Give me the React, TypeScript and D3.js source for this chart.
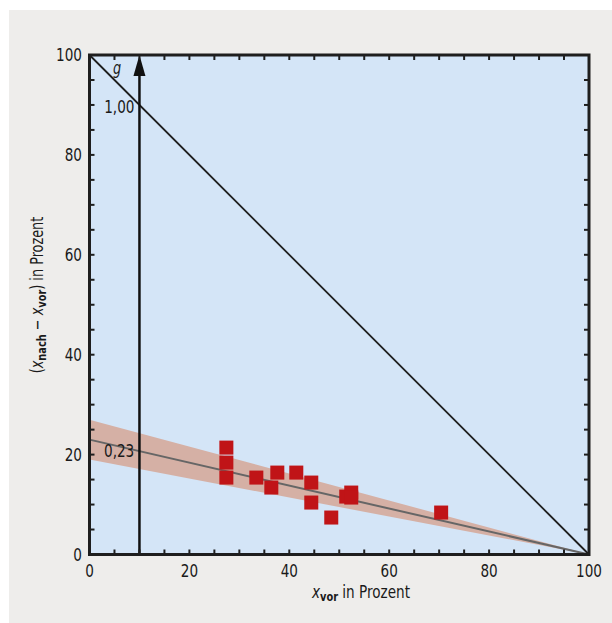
import React from "react";
import * as d3 from "d3";

const pointsX = [27.4, 27.4, 27.4, 33.4, 36.4, 37.6, 41.4, 44.4, 44.4, 48.4, 51.4, 52.4, 52.4, 70.4];
const pointsY = [21.4, 18.4, 15.4, 15.4, 13.4, 16.4, 16.4, 14.4, 10.4, 7.4, 11.6, 12.4, 11.4, 8.4];
const fitIntercept = 23;
const bandUpperIntercept = 27;
const bandLowerIntercept = 19;
const xTickLabels = [0, 20, 40, 60, 80, 100];
const yTickLabels = [0, 20, 40, 60, 80, 100];
const minorTicks = d3.range(0, 101, 5);

const W = 612, H = 623;
const L = 89.5, R = 589, T = 55, B = 554.5;
const FONT = "'DejaVu Sans Condensed', 'DejaVu Sans', sans-serif";
const SX = 0.84;

function Txt(props: { x: number; y: number; anchor?: string; size?: number; rotate?: boolean; children: React.ReactNode; style?: string }) {
  const { x, y, anchor = "start", size = 18, rotate = false, children, style } = props;
  const tr = rotate ? `translate(${x},${y}) rotate(-90) scale(${SX},1)` : `translate(${x},${y}) scale(${SX},1)`;
  return (
    <text transform={tr} fontSize={size} textAnchor={anchor} fill="#1a1a1a" fontStyle={style}>
      {children}
    </text>
  );
}

export default function App() {
  const x = d3.scaleLinear().domain([0, 100]).range([L, R]);
  const y = d3.scaleLinear().domain([0, 100]).range([B, T]);
  const lineFn = (i: number) => (v: number) => i * (1 - v / 100);
  const bandPts = [0, 100];
  const area = d3.area<number>()
    .x((d) => x(d))
    .y0((d) => y(lineFn(bandLowerIntercept)(d)))
    .y1((d) => y(lineFn(bandUpperIntercept)(d)));
  const fit = d3.line<number>().x((d) => x(d)).y((d) => y(lineFn(fitIntercept)(d)));
  const sq = 14;
  const tickLen = 5;
  return (
    <svg width={W} height={H} style={{ position: "absolute", left: 0, top: 0 }} fontFamily={FONT}>
      <rect x={9} y={10} width={W - 9} height={H - 10} fill="#eeedeb" />
      <rect x={L} y={T} width={R - L} height={B - T} fill="#d4e5f7" />
      <path d={area(bandPts) || ""} fill="#d5b0a5" />
      <path d={fit(bandPts) || ""} stroke="#666" strokeWidth={2} fill="none" />
      {pointsX.map((px, i) => (
        <rect key={i} x={x(px) - sq / 2} y={y(pointsY[i]) - sq / 2} width={sq} height={sq} fill="#c01417" />
      ))}
      <line x1={x(0)} y1={y(100)} x2={x(100)} y2={y(0)} stroke="#1e1e1e" strokeWidth={1.8} />
      <line x1={x(10)} y1={y(0)} x2={x(10)} y2={y(100) + 15} stroke="#111" strokeWidth={2.5} />
      <path d={`M${x(10)},${y(100)} L${x(10) - 6},${y(100) + 21} L${x(10) + 6},${y(100) + 21} Z`} fill="#111" />
      <Txt x={113} y={74} size={17} style="italic">g</Txt>
      <Txt x={x(10) - 5} y={113} anchor="end">1,00</Txt>
      <Txt x={104} y={457}>0,23</Txt>
      {minorTicks.map((t) => (
        <g key={t} stroke="#1e1e1e" strokeWidth={2}>
          <line x1={x(t)} x2={x(t)} y1={B} y2={B - tickLen} />
          <line x1={x(t)} x2={x(t)} y1={T} y2={T + tickLen} />
          <line x1={L} x2={L + tickLen} y1={y(t)} y2={y(t)} />
          <line x1={R} x2={R - tickLen} y1={y(t)} y2={y(t)} />
        </g>
      ))}
      <rect x={L} y={T} width={R - L} height={B - T} fill="none" stroke="#1e1e1e" strokeWidth={3} />
      {xTickLabels.map((t) => (
        <Txt key={t} x={x(t)} y={577} anchor="middle">{t}</Txt>
      ))}
      {yTickLabels.map((t) => (
        <Txt key={t} x={82} y={y(t) + 6} anchor="end">{t}</Txt>
      ))}
      <Txt x={361} y={598} anchor="middle" size={18}>
        <tspan fontStyle="italic">x</tspan>
        <tspan fontSize={13} fontWeight="bold" dy={3}>vor</tspan>
        <tspan dy={-3}> in Prozent</tspan>
      </Txt>
      <Txt x={43} y={295} anchor="middle" size={17} rotate>
        <tspan>(</tspan>
        <tspan fontStyle="italic">x</tspan>
        <tspan fontSize={13} fontWeight="bold" dy={3}>nach</tspan>
        <tspan dy={-3}> − </tspan>
        <tspan fontStyle="italic">x</tspan>
        <tspan fontSize={13} fontWeight="bold" dy={3}>vor</tspan>
        <tspan dy={-3}>) in Prozent</tspan>
      </Txt>
    </svg>
  );
}
